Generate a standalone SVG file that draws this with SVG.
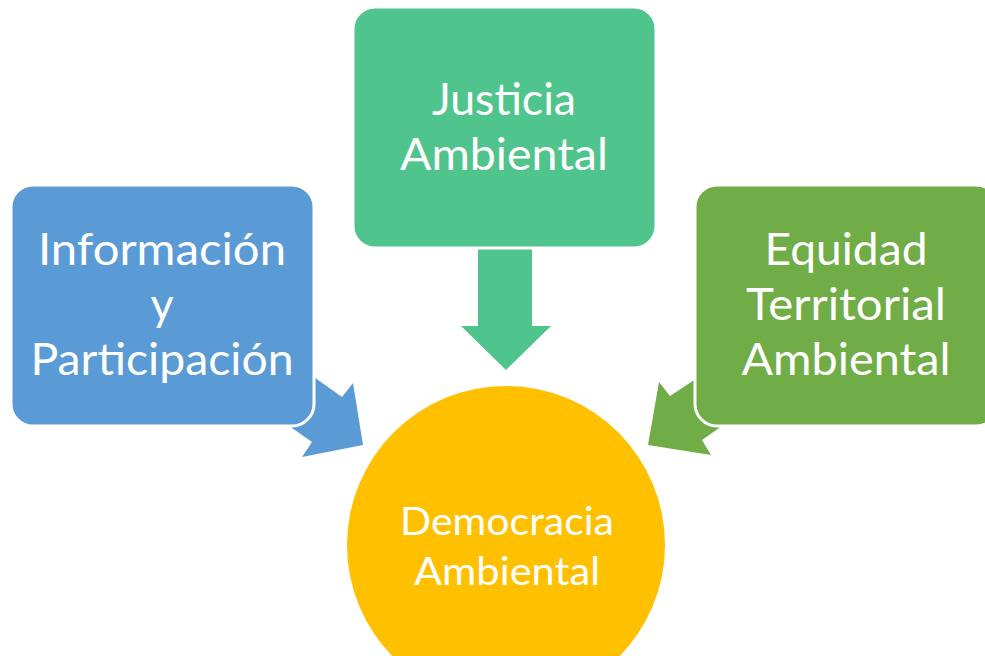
<svg xmlns="http://www.w3.org/2000/svg" width="985" height="656" viewBox="0 0 985 656">
<style>
.t{font-family:Lato,"Open Sans",sans-serif;fill:#fff;text-anchor:middle}
.box{stroke:#fff;stroke-width:3}
</style>
<rect width="985" height="656" fill="#fff"/>
<g id="connectors">
<polygon id="arrow-blue" fill="#5B9BD5" points="280,353 342,397 353,383 363,445 302,457 312,442 255,402"/>
<polygon id="arrow-green" fill="#4FC48C" points="478,230 532,230 532,326 551,326 506,370 461,326 478,326"/>
<polygon id="arrow-olive" fill="#70AD47" points="720,363 670,396 659,382 648,445 711,455 702,440 745,410"/>
</g>
<g id="node-informacion">
<rect class="box" x="11" y="185" width="303" height="241" rx="22" fill="#5B9BD5"/>
<text class="t" font-size="45" x="162" y="265" textLength="248" lengthAdjust="spacingAndGlyphs">Información</text>
<text class="t" font-size="45" x="162" y="320">y</text>
<text class="t" font-size="45" x="162" y="375" textLength="263" lengthAdjust="spacingAndGlyphs">Participación</text>
</g>
<g id="node-justicia">
<rect class="box" x="353" y="7" width="303" height="241" rx="22" fill="#4FC48C"/>
<text class="t" font-size="45" x="504" y="115" textLength="144" lengthAdjust="spacingAndGlyphs">Justicia</text>
<text class="t" font-size="45" x="504" y="170" textLength="208" lengthAdjust="spacingAndGlyphs">Ambiental</text>
</g>
<g id="node-equidad">
<rect class="box" x="695" y="185" width="303" height="241" rx="22" fill="#70AD47"/>
<text class="t" font-size="45" x="846" y="265" textLength="163" lengthAdjust="spacingAndGlyphs">Equidad</text>
<text class="t" font-size="45" x="846" y="320" textLength="200" lengthAdjust="spacingAndGlyphs">Territorial</text>
<text class="t" font-size="45" x="846" y="375" textLength="209" lengthAdjust="spacingAndGlyphs">Ambiental</text>
</g>
<g id="node-democracia">
<circle cx="506" cy="545" r="159" fill="#FFC000"/>
<text class="t" font-size="39" x="507" y="535" textLength="214" lengthAdjust="spacingAndGlyphs">Democracia</text>
<text class="t" font-size="39" x="507" y="585" textLength="186" lengthAdjust="spacingAndGlyphs">Ambiental</text>
</g>
</svg>
